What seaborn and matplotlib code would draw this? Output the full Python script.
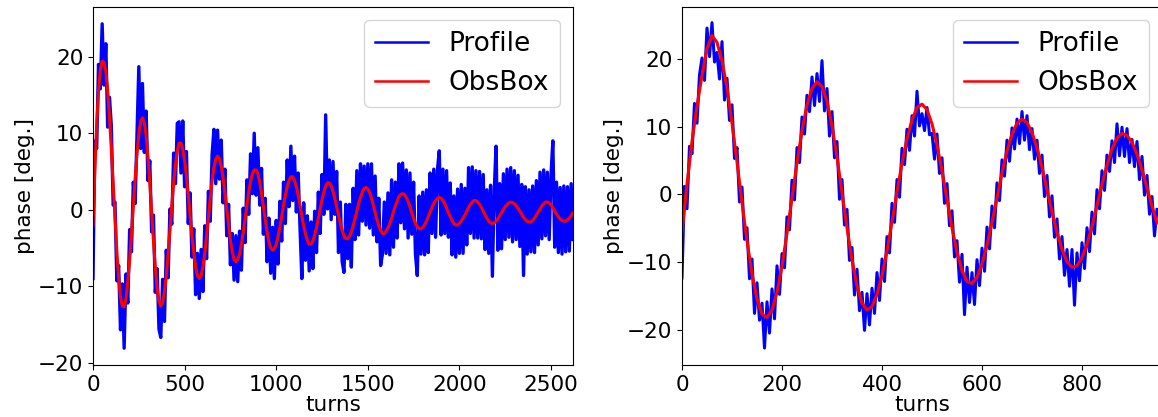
import numpy as np
import pandas as pd
import matplotlib
matplotlib.use("Agg")
import matplotlib.pyplot as plt
import seaborn as sns

# ---------------- data ----------------
# Left panel: turns 0..2620, step 10
left_turns_start, left_turns_stop, left_turns_step = 0, 2620, 10

left_profile = [
    -9.0, 9.0, 8.0, 19.0, 15.8, 24.3, 16.3, 21.7, 10.8, 14.7,
    11.0, 0.6, 1.0, -9.3, -7.3, -15.7, -9.7, -18.1, -8.4, -12.2,
    -2.6, -5.5, 3.6, 0.8, 9.7, 18.7, 8.0, 16.5, 7.5, 12.9,
    3.8, 6.4, -2.9, -0.7, -10.8, -7.7, -15.6, -16.7, -9.1, -14.6,
    -5.3, -8.9, 0.1, -1.9, 7.4, 3.4, 11.3, 11.5, 4.8, 11.6,
    3.0, 7.6, -1.8, 2.2, -6.2, -2.5, -11.1, -5.7, -11.6, -5.2,
    -10.7, -2.1, -6.4, 2.4, -1.5, 7.2, 10.5, 3.4, 10.4, 4.0,
    9.1, 0.9, 5.3, -3.4, 0.7, -7.2, -3.1, -9.2, -3.4, -9.4,
    -2.8, -7.9, 0.2, -4.3, 3.9, -0.6, 7.3, 2.1, 10.0, 1.9,
    8.1, 0.6, 5.4, -3.2, 1.5, -6.8, -1.1, -8.3, -2.3, -9.0,
    -1.4, -7.1, 1.1, -4.1, 3.6, -1.8, 6.5, 0.4, 8.3, 1.2,
    7.0, -0.3, 4.8, -2.4, -9.0, 0.9, -6.6, -0.8, -8.0, -1.6,
    -7.7, -0.2, -5.6, 2.3, -3.1, 4.6, -0.6, 12.4, 0.1, 6.5,
    -1.3, 6.3, -0.6, 5.0, -5.6, 1.0, -6.8, -8.2, 0.7, -6.4,
    0.7, -7.5, 2.8, -3.9, 5.1, -3.3, 6.0, -1.5, 5.7, -2.0,
    6.0, -2.4, 6.0, -3.3, 4.4, -4.2, 1.5, -7.3, -5.8, 1.0,
    -5.7, 2.2, -5.9, 3.9, -4.9, 3.6, -3.7, 6.0, -1.7, 6.1,
    -2.5, 5.2, -3.7, 4.8, -3.2, 3.6, -5.8, -8.6, 1.8, -5.8,
    2.3, -5.9, 2.6, -5.6, 4.8, -3.1, 5.3, -3.6, 5.2, 7.7,
    -3.3, 5.3, -3.1, 5.1, -3.6, 3.5, -5.9, 1.8, -6.2, 2.7,
    -5.7, 3.3, -5.7, 2.8, -4.6, 5.5, -3.1, 5.6, -3.7, 5.1,
    -3.7, 5.0, -3.8, 4.6, -5.2, 2.6, -5.7, 3.2, -8.7, 2.4,
    8.3, -5.3, 3.4, -5.1, 4.7, -3.9, 5.3, -3.6, 5.5, -4.2,
    5.1, -3.9, 4.5, -4.8, 3.3, -8.6, 3.0, -5.8, 2.6, -5.5,
    3.1, -5.6, 3.8, -4.6, 4.9, -3.8, 5.2, -3.4, 4.9, -3.9,
    4.6, 9.0, -4.9, 3.6, -5.6, 2.9, -5.8, 3.1, -5.5, 3.0,
    -5.4, 3.4, -3.9,
]

left_obsbox = [
    -2.0, 5.0, 11.0, 15.5, 18.3, 19.4, 19.3, 18.1, 15.6, 12.1,
    7.9, 3.4, -1.2, -5.4, -8.9, -11.4, -12.6, -12.7, -11.6, -9.5,
    -6.6, -3.2, 0.5, 4.1, 7.3, 9.8, 11.5, 12.0, 11.4, 9.7,
    6.9, 3.5, -0.3, -4.1, -7.5, -10.3, -12.0, -12.6, -12.1, -10.7,
    -8.6, -5.8, -2.7, 0.5, 3.5, 5.9, 7.7, 8.7, 8.7, 7.9,
    6.4, 4.4, 1.9, -0.8, -3.4, -5.6, -7.5, -8.6, -9.0, -8.6,
    -7.5, -5.7, -3.5, -1.0, 1.5, 3.7, 5.5, 6.6, 7.0, 6.7,
    5.7, 4.2, 2.2, 0.1, -2.0, -4.0, -5.5, -6.5, -6.8, -6.5,
    -5.8, -4.5, -3.0, -1.2, 0.6, 2.3, 3.7, 4.7, 5.2, 5.2,
    4.7, 3.6, 2.1, 0.4, -1.3, -2.9, -4.2, -5.0, -5.3, -5.1,
    -4.5, -3.5, -2.3, -0.9, 0.6, 1.9, 3.0, 3.8, 4.3, 4.3,
    3.8, 3.0, 1.9, 0.6, -0.8, -2.1, -3.2, -4.0, -4.5, -4.5,
    -4.1, -3.3, -2.3, -1.1, 0.1, 1.3, 2.3, 3.1, 3.5, 3.5,
    3.1, 2.4, 1.5, 0.4, -0.7, -1.8, -2.7, -3.4, -3.8, -3.8,
    -3.5, -2.9, -2.1, -1.2, -0.2, 0.8, 1.6, 2.3, 2.8, 2.9,
    2.7, 2.3, 1.5, 0.6, -0.4, -1.3, -2.1, -2.7, -3.1, -3.1,
    -2.8, -2.4, -1.8, -1.1, -0.3, 0.5, 1.1, 1.7, 2.0, 2.1,
    2.0, 1.6, 1.1, 0.4, -0.4, -1.1, -1.8, -2.2, -2.5, -2.5,
    -2.3, -2.0, -1.5, -0.9, -0.3, 0.3, 0.8, 1.2, 1.5, 1.6,
    1.5, 1.2, 0.8, 0.2, -0.4, -0.9, -1.4, -1.8, -2.0, -2.0,
    -1.8, -1.5, -1.1, -0.7, -0.2, 0.3, 0.7, 1.0, 1.2, 1.2,
    1.0, 0.7, 0.3, -0.2, -0.7, -1.1, -1.5, -1.7, -1.8, -1.7,
    -1.5, -1.2, -0.8, -0.4, 0.0, 0.4, 0.7, 0.9, 1.0, 0.9,
    0.8, 0.5, 0.2, -0.2, -0.6, -1.0, -1.3, -1.5, -1.6, -1.6,
    -1.4, -1.1, -0.7, -0.3, 0.1, 0.5, 0.8, 1.0, 1.0, 0.9,
    0.6, 0.3, -0.2, -0.6, -0.9, -1.2, -1.4, -1.5, -1.5, -1.3,
    -1.1, -0.8, -0.4,
]

# Right panel: profile at step 5, obsbox at step 10 (turns 0..950)
right_profile_step = 5
right_obsbox_step = 10

right_profile = [
    -12.3, 1.2, -2.1, 7.1, 6.0, 13.4, 10.5, 17.6, 20.1, 16.8,
    24.5, 20.3, 25.3, 19.5, 20.9, 17.0, 22.5, 13.9, 17.1, 10.9,
    13.2, 5.3, 6.9, -1.1, 1.1, -6.6, -4.9, -12.4, -9.5, -17.5,
    -13.0, -18.5, -16.0, -22.6, -15.8, -20.4, -13.9, -18.3, -10.5, -14.7,
    -8.7, -10.8, -3.3, -5.2, 2.1, -0.8, 6.9, 4.7, 11.4, 8.9,
    14.6, 12.2, 17.3, 13.1, 17.8, 13.7, 19.7, 12.3, 15.6, 8.6,
    12.2, 5.4, 7.8, -0.7, 2.2, -4.5, -2.2, -9.7, -7.8, -14.8,
    -11.0, -17.1, -14.4, -20.0, -14.6, -19.2, -13.8, -17.5, -11.5, -15.6,
    -9.5, -12.8, -6.2, -8.6, -1.3, -4.1, 2.2, -0.4, 6.8, 4.4,
    9.6, 6.5, 11.6, 8.6, 15.2, 10.1, 11.9, 9.4, 12.8, 8.8,
    9.0, 5.2, 8.9, 3.1, 5.4, -1.3, 1.6, -4.6, -2.4, -9.2,
    -6.8, -12.9, -8.8, -17.7, -10.7, -15.9, -11.5, -16.2, -9.6, -13.4,
    -7.9, -11.3, -4.8, -8.0, -1.7, -4.9, 1.7, -0.9, 5.1, 2.7,
    8.0, 4.9, 9.8, 6.7, 11.1, 7.5, 12.2, 8.0, 11.6, 6.6,
    9.7, 5.2, 8.0, 3.1, 5.8, -0.3, 2.8, -3.3, -0.2, -6.3,
    -3.6, -9.5, -6.2, -11.9, -8.1, -13.5, -8.1, -16.3, -8.6, -12.7,
    -7.1, -10.9, -4.9, -8.4, -2.6, -5.8, 0.7, -2.1, 3.5, 0.6,
    5.8, 3.4, 7.9, 4.7, 10.4, 5.7, 9.9, 5.6, 9.7, 4.7,
    8.1, 4.1, 7.8, 2.2, 5.6, -0.1, 2.8, -2.9, -0.3, -6.1,
    -2.2,
]

right_obsbox = [
    -5.6, 1.5, 7.8, 13.0, 17.5, 21.5, 23.4, 22.4, 19.7, 15.7,
    10.5, 4.8, -1.2, -6.8, -11.7, -15.4, -17.6, -18.1, -17.0, -14.4,
    -10.5, -5.7, -0.5, 4.7, 9.4, 13.2, 15.6, 16.6, 15.9, 13.7,
    10.1, 5.5, 0.3, -4.9, -9.6, -13.5, -16.0, -17.0, -16.5, -14.7,
    -11.9, -8.3, -4.0, 0.4, 4.6, 8.2, 11.0, 12.8, 13.3, 12.5,
    10.4, 7.3, 3.5, -0.7, -4.9, -8.5, -11.2, -12.8, -13.1, -12.2,
    -10.2, -7.5, -4.1, -0.5, 3.2, 6.4, 8.9, 10.5, 11.1, 10.6,
    9.1, 6.9, 4.0, 0.7, -2.6, -5.6, -8.1, -9.9, -10.7, -10.5,
    -9.3, -7.3, -4.7, -1.6, 1.5, 4.3, 6.7, 8.3, 9.0, 8.7,
    7.7, 5.9, 3.6, 1.0, -1.7, -4.2,
]

series_names = ["Profile", "ObsBox"]
series_colors = ["blue", "red"]
x_label = "turns"
y_label = "phase [deg.]"

# ---------------- build frames ----------------
left_x = np.arange(left_turns_start, left_turns_stop + 1, left_turns_step)
df_left_p = pd.DataFrame({"turns": left_x, "phase": left_profile})
df_left_o = pd.DataFrame({"turns": left_x, "phase": left_obsbox})
df_right_p = pd.DataFrame({"turns": np.arange(len(right_profile)) * right_profile_step,
                           "phase": right_profile})
df_right_o = pd.DataFrame({"turns": np.arange(len(right_obsbox)) * right_obsbox_step,
                           "phase": right_obsbox})

# ---------------- figure ----------------
plt.rcParams["font.family"] = ["DejaVu Sans"]
plt.rcParams["xtick.labelsize"] = 15.5
plt.rcParams["ytick.labelsize"] = 15.5
plt.rcParams["axes.labelsize"] = 15.5

W, H = 1158, 417
fig = plt.figure(figsize=(W / 100, H / 100), dpi=100)
bottom_px, top_px = 365, 7
ax1 = fig.add_axes([93 / W, (H - bottom_px) / H, 480 / W, (bottom_px - top_px) / H])
ax2 = fig.add_axes([682 / W, (H - bottom_px) / H, 480 / W, (bottom_px - top_px) / H])

panels = [
    (ax1, df_left_p, df_left_o, (0, 2620), (-20.3, 26.5), 2.4),
    (ax2, df_right_p, df_right_o, (0, 960), (-25.1, 27.6), 2.2),
]
for ax, dfp, dfo, xl, yl, lw in panels:
    sns.lineplot(data=dfp, x="turns", y="phase", ax=ax, color=series_colors[0],
                 label=series_names[0], estimator=None, sort=False, linewidth=lw)
    sns.lineplot(data=dfo, x="turns", y="phase", ax=ax, color=series_colors[1],
                 label=series_names[1], estimator=None, sort=False, linewidth=2.2)
    ax.set_xlim(*xl)
    ax.set_ylim(*yl)
    ax.set_xlabel(x_label, labelpad=0)
    ax.set_ylabel(y_label, labelpad=2)
    leg = ax.legend(loc="upper right", fontsize=19, frameon=True)
    for line in leg.get_lines():
        line.set_linewidth(1.8)
    ax.set_facecolor("white")

fig.savefig("out.png", dpi=100, facecolor="white")
